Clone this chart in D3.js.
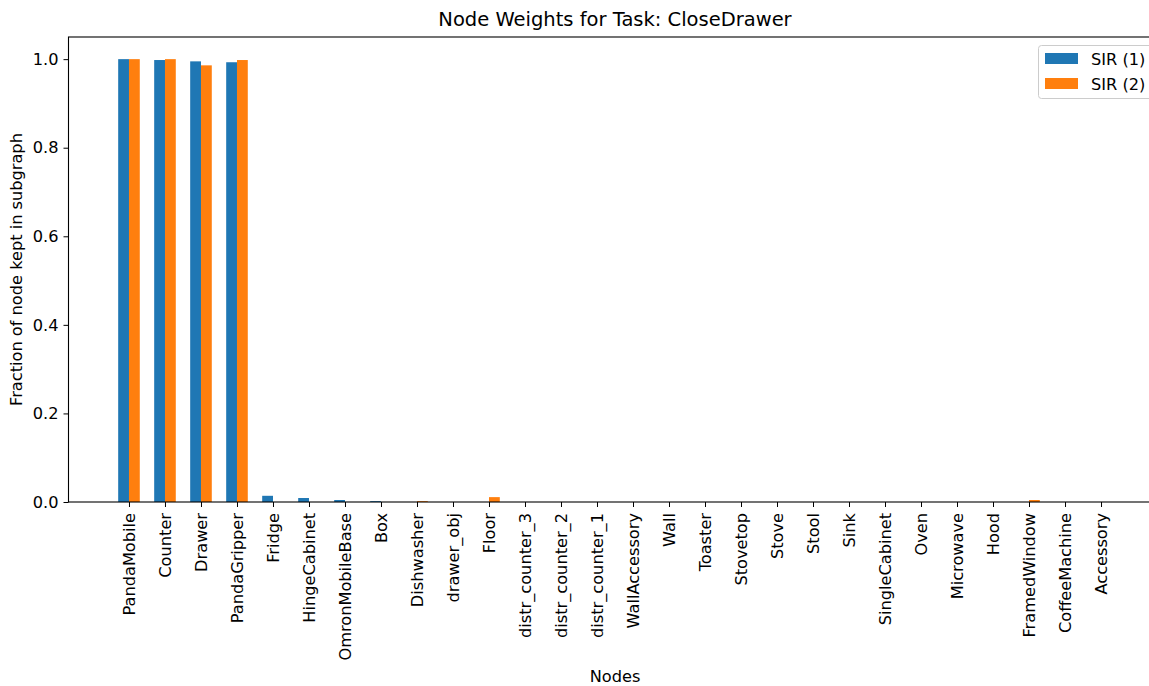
<!DOCTYPE html>
<html>
<head>
<meta charset="utf-8">
<script src="https://cdn.jsdelivr.net/npm/d3@7"></script>
<style>
  html, body { margin: 0; padding: 0; background: #fff; }
  svg { display: block; }
  svg text { font-family: "DejaVu Sans", sans-serif; }
</style>
</head>
<body>
<svg id="chart" width="1149" height="686"></svg>
<script>
// Node names in plotting order
const nodes = [
  "PandaMobile", "Counter", "Drawer", "PandaGripper", "Fridge", "HingeCabinet",
  "OmronMobileBase", "Box", "Dishwasher", "drawer_obj", "Floor", "distr_counter_3",
  "distr_counter_2", "distr_counter_1", "WallAccessory", "Wall", "Toaster", "Stovetop",
  "Stove", "Stool", "Sink", "SingleCabinet", "Oven", "Microwave", "Hood",
  "FramedWindow", "CoffeeMachine", "Accessory"
];

// Fraction of each node kept in the subgraph, per run
const sir1 = [
  1.000, 0.998, 0.995, 0.993, 0.014, 0.009, 0.0045, 0.002, 0, 0, 0, 0,
  0, 0, 0, 0, 0, 0, 0, 0, 0, 0, 0, 0, 0, 0, 0, 0
];
const sir2 = [
  1.000, 1.000, 0.986, 0.998, 0, 0, 0, 0, 0.002, 0, 0.011, 0,
  0, 0, 0, 0, 0, 0, 0, 0, 0, 0, 0, 0, 0, 0.0045, 0, 0
];

const seriesNames = ["SIR (1)", "SIR (2)"];
const colors = ["#1f77b4", "#ff7f0e"];
const yTicks = [0.0, 0.2, 0.4, 0.6, 0.8, 1.0];

const barW = 0.3;
const plot = { left: 68.5, right: 1161.5, top: 37, bottom: 502 };
const FONT = "DejaVu Sans, sans-serif";
const FS = 16.2;

const svg = d3.select("#chart");

const x = d3.scaleLinear()
  .domain([-1.68, nodes.length - 1 + 1.68])
  .range([plot.left, plot.right]);
const y = d3.scaleLinear()
  .domain([0, 1.05])
  .range([plot.bottom, plot.top]);

const bw = x(barW) - x(0);

// Bars: first run to the left of the tick, second to the right
[sir1, sir2].forEach((vals, s) => {
  svg.append("g")
    .selectAll("rect")
    .data(vals)
    .join("rect")
    .attr("x", (d, i) => x(i + (s === 0 ? -barW : 0)))
    .attr("width", bw)
    .attr("y", d => y(d))
    .attr("height", d => y(0) - y(d))
    .attr("fill", colors[s]);
});

// Axes
const xAxis = svg.append("g")
  .attr("transform", `translate(0,${plot.bottom})`)
  .call(d3.axisBottom(x)
    .tickValues(d3.range(nodes.length))
    .tickFormat(i => nodes[i])
    .tickSizeOuter(0)
    .tickSize(5));
xAxis.attr("font-family", FONT).attr("font-size", FS);
xAxis.select(".domain").remove();
xAxis.selectAll(".tick line").attr("stroke", "#000").attr("stroke-width", 1);
xAxis.selectAll(".tick text")
  .attr("transform", "rotate(-90)")
  .attr("x", -11)
  .attr("y", 0)
  .attr("dy", "0.35em")
  .attr("text-anchor", "end")
  .attr("fill", "#000");

const yAxis = svg.append("g")
  .attr("transform", `translate(${plot.left},0)`)
  .call(d3.axisLeft(y)
    .tickValues(yTicks)
    .tickFormat(d3.format(".1f"))
    .tickSizeOuter(0)
    .tickSize(5)
    .tickPadding(5));
yAxis.attr("font-family", FONT).attr("font-size", FS);
yAxis.select(".domain").remove();
yAxis.selectAll(".tick line").attr("stroke", "#000").attr("stroke-width", 1);
yAxis.selectAll(".tick text").attr("fill", "#000");

// Frame
svg.append("rect")
  .attr("x", plot.left)
  .attr("y", plot.top)
  .attr("width", plot.right - plot.left)
  .attr("height", plot.bottom - plot.top)
  .attr("fill", "none")
  .attr("stroke", "#000")
  .attr("stroke-width", 1.1);

// Titles
const cx = (plot.left + plot.right) / 2;
svg.append("text")
  .attr("x", cx).attr("y", 26)
  .attr("text-anchor", "middle")
  .style("font-size", "19.5px")
  .text("Node Weights for Task: CloseDrawer");

svg.append("text")
  .attr("x", cx).attr("y", 682)
  .attr("text-anchor", "middle")
  .style("font-size", FS + "px")
  .text("Nodes");

svg.append("text")
  .attr("transform", `translate(22,${(plot.top + plot.bottom) / 2}) rotate(-90)`)
  .attr("text-anchor", "middle")
  .style("font-size", FS + "px")
  .text("Fraction of node kept in subgraph");

// Legend
const legend = svg.append("g").attr("transform", "translate(1038,45)");
legend.append("rect")
  .attr("x", 0.5).attr("y", 0.5)
  .attr("width", 120).attr("height", 53)
  .attr("rx", 3)
  .attr("fill", "#fff").attr("fill-opacity", 0.8)
  .attr("stroke", "#ccc");
seriesNames.forEach((name, i) => {
  legend.append("rect")
    .attr("x", 7).attr("y", 8 + i * 25)
    .attr("width", 33).attr("height", 11)
    .attr("fill", colors[i]);
  legend.append("text")
    .attr("x", 53).attr("y", 20 + i * 25)
    .style("font-size", FS + "px")
    .text(name);
});
</script>
</body>
</html>
